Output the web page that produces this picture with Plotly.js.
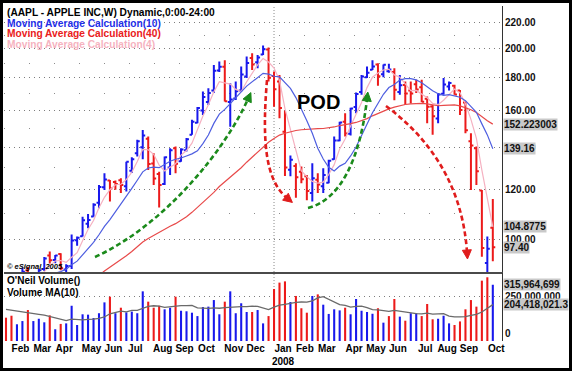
<!DOCTYPE html>
<html>
<head>
<meta charset="utf-8">
<script src="https://cdn.plot.ly/plotly-3.0.1.min.js"></script>
<style>html,body{margin:0;padding:0;background:#fff;}#chart{width:575px;height:376px;}</style>
</head>
<body>
<div id="chart"></div>
<script>
// ---------- DATA (AAPL weekly) ----------
const weeks = [
"2007-01-29","2007-02-05","2007-02-12","2007-02-19","2007-02-26","2007-03-05","2007-03-12","2007-03-19","2007-03-26","2007-04-02",
"2007-04-09","2007-04-16","2007-04-23","2007-04-30","2007-05-07","2007-05-14","2007-05-21","2007-05-28","2007-06-04","2007-06-11",
"2007-06-18","2007-06-25","2007-07-02","2007-07-09","2007-07-16","2007-07-23","2007-07-30","2007-08-06","2007-08-13","2007-08-20",
"2007-08-27","2007-09-03","2007-09-10","2007-09-17","2007-09-24","2007-10-01","2007-10-08","2007-10-15","2007-10-22","2007-10-29",
"2007-11-05","2007-11-12","2007-11-19","2007-11-26","2007-12-03","2007-12-10","2007-12-17","2007-12-24","2007-12-31","2008-01-07",
"2008-01-14","2008-01-21","2008-01-28","2008-02-04","2008-02-11","2008-02-18","2008-02-25","2008-03-03","2008-03-10","2008-03-17",
"2008-03-24","2008-03-31","2008-04-07","2008-04-14","2008-04-21","2008-04-28","2008-05-05","2008-05-12","2008-05-19","2008-05-26",
"2008-06-02","2008-06-09","2008-06-16","2008-06-23","2008-06-30","2008-07-07","2008-07-14","2008-07-21","2008-07-28","2008-08-04",
"2008-08-11","2008-08-18","2008-08-25","2008-09-01","2008-09-08","2008-09-15","2008-09-22","2008-09-29","2008-10-06","2008-10-13"];

const openP = [86.3,84.5,83.6,85.0,89.5,84.8,88.2,90.0,94.5,93.0,
95.0,89.8,91.0,99.9,101.3,106.0,108.9,114.4,121.1,124.0,
123.4,124.2,121.5,128.5,137.0,140.0,144.3,132.0,127.0,122.5,
130.0,139.5,133.0,138.5,146.5,153.0,160.0,165.0,172.0,185.0,
187.5,165.0,167.0,172.0,181.0,193.5,190.5,196.0,199.5,181.3,
177.7,148.0,129.0,130.8,128.0,126.0,118.6,124.4,121.5,123.0,
134.0,143.5,153.5,147.0,162.0,171.0,180.5,185.5,189.0,182.5,
184.5,184.0,171.0,175.5,172.0,176.0,174.0,166.9,162.3,155.4,
170.0,174.5,175.0,172.0,164.6,143.0,139.5,119.6,91.96,104.55];
const highP = [86.9,86.2,85.9,90.5,90.6,88.7,90.0,94.0,95.9,94.7,
95.3,91.5,102.0,101.2,108.8,109.9,114.2,122.1,127.4,124.3,
124.0,125.1,132.8,135.0,143.8,149.0,145.6,137.0,128.0,135.3,
139.5,140.3,139.5,144.7,154.6,162.0,171.3,173.4,188.7,191.0,
192.0,176.6,177.7,187.6,194.5,196.9,195.7,202.5,201.0,184.3,
182.0,160.0,135.8,132.1,130.5,126.6,132.1,127.4,129.7,133.7,
145.6,153.6,158.4,161.5,170.7,182.0,187.6,192.0,189.9,189.0,
189.5,186.5,182.0,177.7,177.7,178.9,178.9,168.2,163.1,170.5,
179.9,177.7,175.6,172.3,165.2,147.3,140.3,119.9,101.2,116.0];
const lowP = [84.2,82.8,83.0,84.6,83.3,83.6,86.0,89.3,91.8,91.9,
89.6,88.5,90.0,97.9,101.2,104.3,108.8,112.2,119.9,115.0,
120.0,118.5,119.2,127.5,135.3,134.0,128.9,122.0,112.5,122.0,
126.6,127.4,132.8,137.8,146.4,152.7,157.4,163.1,170.5,184.0,
165.2,150.8,166.2,171.3,179.9,185.3,186.5,195.7,177.7,162.2,
155.5,126.1,126.0,116.5,122.8,115.5,115.0,118.5,118.5,122.8,
133.7,143.0,145.5,146.0,158.4,169.3,179.9,185.3,175.0,180.5,
183.5,166.0,169.3,163.1,164.1,170.5,165.0,152.7,146.5,152.7,
169.3,172.0,169.3,157.4,147.3,119.9,122.1,94.1,85.0,92.5];
const closeP = [84.75,83.27,84.83,89.07,85.41,87.97,89.59,93.5,92.91,94.5,
90.24,90.97,99.8,100.81,107.34,107.5,113.6,121.19,124.49,120.5,
122.5,122.04,132.75,134.0,143.0,146.0,131.76,125.0,122.06,135.0,
138.48,131.77,138.81,144.15,153.47,161.45,167.91,170.42,184.7,187.44,
165.37,166.39,171.54,182.22,189.95,189.0,193.91,199.83,180.05,172.69,
161.36,130.01,133.75,125.48,124.63,119.46,125.02,122.25,126.61,133.27,
143.5,153.08,147.14,161.04,169.73,180.94,183.45,187.62,181.17,188.75,
185.64,172.37,175.27,170.09,170.12,172.58,165.15,162.12,156.66,169.55,
175.74,176.79,169.53,160.18,148.94,140.91,128.24,97.07,96.8,97.4];

const ma10 = [86.9,86.6,86.3,86.4,86.5,86.7,87.1,87.6,88.1,88.58,
89.13,89.9,91.4,92.57,94.76,96.72,99.12,101.89,105.04,107.64,
110.87,113.98,117.27,120.59,124.16,128.01,129.82,130.2,129.96,131.41,
133.01,133.98,134.59,135.6,136.65,138.2,141.81,146.35,152.62,157.86,
160.55,164.01,167.28,171.09,174.74,177.49,180.09,183.04,182.57,181.1,
180.69,177.06,173.28,167.6,161.07,154.12,147.23,139.47,134.13,130.18,
128.4,130.71,132.04,135.6,140.11,146.26,152.1,158.64,164.09,169.64,
173.86,175.79,178.6,179.5,179.54,178.71,176.88,174.33,171.88,169.96,
168.97,169.41,168.83,167.84,165.72,162.56,158.87,152.36,146.38,139.16];
const ma40 = [74.7,75.0,75.4,75.8,76.2,76.7,77.3,77.9,78.6,79.4,
80.1,80.9,81.7,82.8,84.0,85.2,86.46,87.91,89.33,90.53,
91.74,92.99,94.39,95.89,97.59,99.24,100.51,101.68,102.65,103.89,
105.06,106.07,107.33,108.74,110.52,112.44,114.51,116.41,118.82,121.37,
123.39,125.47,127.64,129.96,132.58,135.1,137.71,140.37,142.55,144.5,
146.28,147.26,148.11,148.72,149.15,149.45,149.74,149.77,149.82,150.14,
150.66,151.44,151.8,152.47,153.14,154.02,155.31,156.87,158.35,159.7,
160.87,161.89,162.8,163.45,163.87,164.14,164.07,163.87,163.17,162.72,
162.98,163.24,163.19,162.64,161.61,160.41,158.77,156.2,154.12,152.223003];
const ma4 = [86.0,85.3,84.6,85.48,85.65,86.82,88.01,89.12,90.99,92.63,
92.79,92.16,93.88,95.46,99.73,103.86,107.31,112.41,116.7,119.95,
122.17,122.38,124.45,127.82,132.95,138.94,138.69,136.44,131.21,128.46,
130.14,131.83,136.02,138.3,142.05,149.47,156.75,163.31,171.12,177.62,
176.98,175.98,172.69,171.38,177.53,183.18,188.77,193.17,190.7,186.62,
178.48,161.03,149.45,137.65,128.47,125.83,123.65,122.84,123.34,126.79,
131.41,139.12,144.25,151.19,157.75,164.71,173.79,180.44,183.3,185.25,
185.8,181.98,180.51,175.84,171.96,172.02,169.49,167.49,164.13,163.37,
166.02,169.69,172.9,170.56,163.86,154.89,144.57,128.79,115.76,104.8775];

// weekly volume, millions of shares
const volumeM = [131,142,94,112,174,112,125,105,144,66,
96,99,198,90,150,148,129,156,217,249,
156,187,161,165,156,279,221,187,198,178,
187,249,170,167,159,140,191,193,230,150,
221,279,156,212,163,163,174,99,140,292,
328,335,219,253,184,159,253,262,204,152,
178,172,187,150,236,170,163,153,184,103,
140,236,137,114,156,156,140,208,122,125,
142,99,90,110,178,230,193,339,358,315.964699];
// 1 = close above prior week (blue), 0 = below (red)
const volUp = [0,0,1,1,0,1,1,1,0,1, 0,1,1,1,1,1,1,1,1,0, 1,0,1,1,1,1,0,0,0,1,
1,0,1,1,1,1,1,1,1,1, 0,1,1,1,1,0,1,1,0,0, 0,0,1,0,0,0,1,0,1,1,
1,1,0,1,1,1,1,1,0,1, 0,0,1,0,1,1,0,0,0,1, 1,1,0,0,0,0,0,0,0,1];
const volMA10M = [178,174,168,163,158,155,150,145,137,127,
120,115,123,121,118.5,122,122.5,127.6,135,153,
159,168,164,172,172,185.5,195,198,196,189,
192,198,199,199,199.5,186,183,183,186,184,
187,190,189,193,193.5,196,194,185,176,190,
201,206,212.5,217,219,218,226,242.5,249,235,
220,204,200,190,195,196,187,176.5,174.5,170,
166,172,167,164,156,154,152,157,151,153,
154,140,135,135,137,144,150,163,186,204.4180213];

const priceTicks = [100,120,140,160,180,200,220];
const priceMinor = [110,130,150,170,190,210];
const monthNames = ["Jan","Feb","Mar","Apr","May","Jun","Jul","Aug","Sep","Oct","Nov","Dec"];
const titleLines = [
  {text:"(AAPL - APPLE INC,W) Dynamic,0:00-24:00", color:"#000000"},
  {text:"Moving Average Calculation(10)", color:"#1f2fe8"},
  {text:"Moving Average Calculation(40)", color:"#ea2020"},
  {text:"Moving Average Calculation(4)", color:"#f6b3bf"}
];

// ---------- BUILD ----------
const W = 575, H = 376;
const PX = x => x / W, PY = y => 1 - y / H;
const FONT = '"Liberation Sans", Arial, sans-serif';
const BLUE = '#1818ec', RED = '#ec1a1a';
const idx = weeks.map((d, i) => i);
const vol = volumeM.map(v => v * 1e6);
const volMA = volMA10M.map(v => v * 1e6);
const volColors = volUp.map(u => u ? BLUE : RED);

const tickIdx = [], tickText = [];
let yearIdx = null;
for (let i = 1; i < weeks.length; i++) {
  const m0 = weeks[i-1].slice(5,7), m1 = weeks[i].slice(5,7);
  const y0 = weeks[i-1].slice(0,4), y1 = weeks[i].slice(0,4);
  if (m0 !== m1) {
    tickIdx.push(i);
    let t = monthNames[parseInt(m1,10)-1];
    if (y0 !== y1) { t += '<br>' + y1; yearIdx = i; }
    tickText.push(t);
  }
}

const n = weeks.length;
const traces = [
  {type:'bar', x:idx, y:vol, xaxis:'x2', yaxis:'y2', width:0.38,
   marker:{color:volColors, line:{width:0}}, hoverinfo:'skip'},
  {type:'scatter', mode:'lines', x:idx, y:volMA, xaxis:'x2', yaxis:'y2',
   line:{color:'#6a6a6a', width:1.3}, hoverinfo:'skip'},
  {type:'scatter', mode:'lines', x:idx, y:ma4, line:{color:'#f5b1c1', width:1.2}, hoverinfo:'skip'},
  {type:'scatter', mode:'lines', x:idx, y:ma40, line:{color:'#e84a4a', width:1.2}, hoverinfo:'skip'},
  {type:'scatter', mode:'lines', x:idx, y:ma10, line:{color:'#4e5ee0', width:1.2}, hoverinfo:'skip'},
  {type:'ohlc', x:idx, open:openP, high:highP, low:lowP, close:closeP, tickwidth:0.45,
   increasing:{line:{color:BLUE, width:2}}, decreasing:{line:{color:RED, width:2}}, hoverinfo:'skip'}
];

const xr = [-0.366, 90.68];
const annotations = [];
titleLines.forEach((t, k) => {
  annotations.push({xref:'paper', yref:'paper', x:PX(5), y:PY(12.5 + k*10.7), xanchor:'left', yanchor:'middle',
    text:'<b>'+t.text+'</b>', showarrow:false, font:{family:FONT, size:10.2, color:t.color}});
});
annotations.push({xref:'paper', yref:'paper', x:PX(318), y:PY(89), text:'<b>POD</b>', showarrow:false,
  font:{family:FONT, size:20, color:'#000'}});
annotations.push({xref:'paper', yref:'paper', x:PX(5), y:PY(266), xanchor:'left', yanchor:'middle',
  text:'<b><i>\u00a9 eSignal, 2005</i></b>', showarrow:false, font:{family:FONT, size:7.5, color:'#000'}});
annotations.push({xref:'paper', yref:'paper', x:PX(5), y:PY(280.5), xanchor:'left', yanchor:'middle',
  text:"<b>O'Neil Volume()</b>", showarrow:false, font:{family:FONT, size:10, color:'#000'}});
annotations.push({xref:'paper', yref:'paper', x:PX(5), y:PY(292), xanchor:'left', yanchor:'middle',
  text:'<b>Volume MA(10)</b>', showarrow:false, font:{family:FONT, size:10, color:'#000'}});

function sideLabel(text, yval, yref) {
  annotations.push({xref:'paper', yref:yref, x:PX(502.5), y:yval, xanchor:'left', yanchor:'middle',
    text:'<b>'+text+'</b>', showarrow:false, bgcolor:'#c9c9c9', borderpad:0,
    font:{family:FONT, size:10, color:'#111'}});
}
sideLabel(String(ma40[n-1]), Math.log10(ma40[n-1]), 'y');
sideLabel(String(ma10[n-1]), Math.log10(ma10[n-1]), 'y');
sideLabel(String(ma4[n-1]), Math.log10(ma4[n-1]), 'y');
sideLabel(closeP[n-1].toFixed(2), Math.log10(closeP[n-1]), 'y');
sideLabel(Math.round(vol[n-1]).toLocaleString('en-US'), vol[n-1], 'y2');
sideLabel(volMA[n-1].toLocaleString('en-US', {maximumFractionDigits:1}), volMA[n-1], 'y2');
annotations.push({xref:'paper', yref:'y2', x:PX(503), y:0, xanchor:'left', yanchor:'bottom',
  text:'<b>0</b>', showarrow:false, font:{family:FONT, size:10, color:'#111'}});

// decorative dashed arrows (pixel geometry of the hand-drawn annotations)
const shapes = [];
function P(x, y) { return PX(x).toFixed(5) + ',' + PY(y).toFixed(5); }
function curve(p, color) {
  shapes.push({type:'path', xref:'paper', yref:'paper',
    path:'M' + P(p[0],p[1]) + ' C' + P(p[2],p[3]) + ' ' + P(p[4],p[5]) + ' ' + P(p[6],p[7]),
    line:{color:color, width:2.6, dash:'5px,3px'}});
  const tx = p[6], ty = p[7], fx = p[4], fy = p[5];
  let dx = tx - fx, dy = ty - fy; const L = Math.hypot(dx, dy); dx /= L; dy /= L;
  const hx = tx + dx*7, hy = ty + dy*7;
  const bx = tx - dx*2, by = ty - dy*2;
  const qx = -dy, qy = dx;
  shapes.push({type:'path', xref:'paper', yref:'paper',
    path:'M' + P(hx,hy) + ' L' + P(bx + qx*4.5, by + qy*4.5) + ' L' + P(bx - qx*4.5, by - qy*4.5) + ' Z',
    fillcolor:color, line:{color:color, width:1}});
}
curve([95,257, 165,225, 225,150, 248,99], '#1b8a1b');
curve([267,80, 262,140, 265,180, 287,198], '#e01c1c');
curve([308,208, 340,200, 360,160, 367,99], '#1b8a1b');
curve([386,106, 425,135, 462,180, 467,252], '#e01c1c');

if (yearIdx !== null) {
  shapes.push({type:'line', xref:'x', yref:'paper', x0:yearIdx, x1:yearIdx, y0:PY(341), y1:PY(6),
    line:{color:'#8a8a8a', width:1, dash:'1px,2px'}, layer:'below'});
}
shapes.push({type:'rect', xref:'paper', yref:'paper', x0:PX(1.5), x1:PX(570.5), y0:PY(369.5), y1:PY(1.5),
  line:{color:'#000', width:3}, fillcolor:'rgba(0,0,0,0)'});

const layout = {
  width:W, height:H, margin:{l:0, r:0, t:0, b:0, pad:0},
  paper_bgcolor:'#ffffff', plot_bgcolor:'#ffffff', showlegend:false, hovermode:false,
  font:{family:FONT, size:10, color:'#000'},
  xaxis:{domain:[PX(4), PX(502)], range:xr, anchor:'y', showticklabels:false, ticks:'',
    showgrid:false, zeroline:false, showline:true, linecolor:'#4a4a4a', linewidth:1.5,
    rangeslider:{visible:false}, fixedrange:true, automargin:false},
  xaxis2:{domain:[PX(4), PX(502)], range:xr, anchor:'y2', tickmode:'array', tickvals:tickIdx, ticktext:tickText,
    ticks:'', showgrid:false, zeroline:false, showline:false, tickangle:0, ticklabelshift:9,
    tickfont:{family:FONT, size:10, color:'#000', weight:'bold'}, fixedrange:true, automargin:false},
  yaxis:{domain:[PY(272), PY(6)], type:'log', range:[Math.log10(89.0), Math.log10(233.7)], anchor:'x', side:'right',
    tickmode:'array', tickvals:priceTicks, ticktext:priceTicks.map(v => v.toFixed(2)), ticks:'',
    showgrid:true, gridcolor:'#7d7d7d', gridwidth:1, griddash:'1px,4px', zeroline:false,
    showline:true, linecolor:'#333', linewidth:1,
    minor:{tickmode:'array', tickvals:priceMinor, showgrid:true, gridcolor:'#8d8d8d', griddash:'1px,24px', ticks:''},
    tickfont:{family:FONT, size:10, color:'#111', weight:'bold'}, fixedrange:true, automargin:false},
  yaxis2:{domain:[PY(341), PY(273)], range:[0, 382e6], anchor:'x2', side:'right',
    tickmode:'array', tickvals:[250e6], ticktext:[(250e6).toLocaleString('en-US')], ticks:'',
    showgrid:true, gridcolor:'#7d7d7d', griddash:'1px,4px', zeroline:false,
    showline:true, linecolor:'#333', linewidth:1,
    tickfont:{family:FONT, size:10, color:'#111', weight:'bold'}, fixedrange:true, automargin:false},
  annotations:annotations, shapes:shapes
};

Plotly.newPlot('chart', traces, layout, {staticPlot:true, displayModeBar:false});
</script>
</body>
</html>
